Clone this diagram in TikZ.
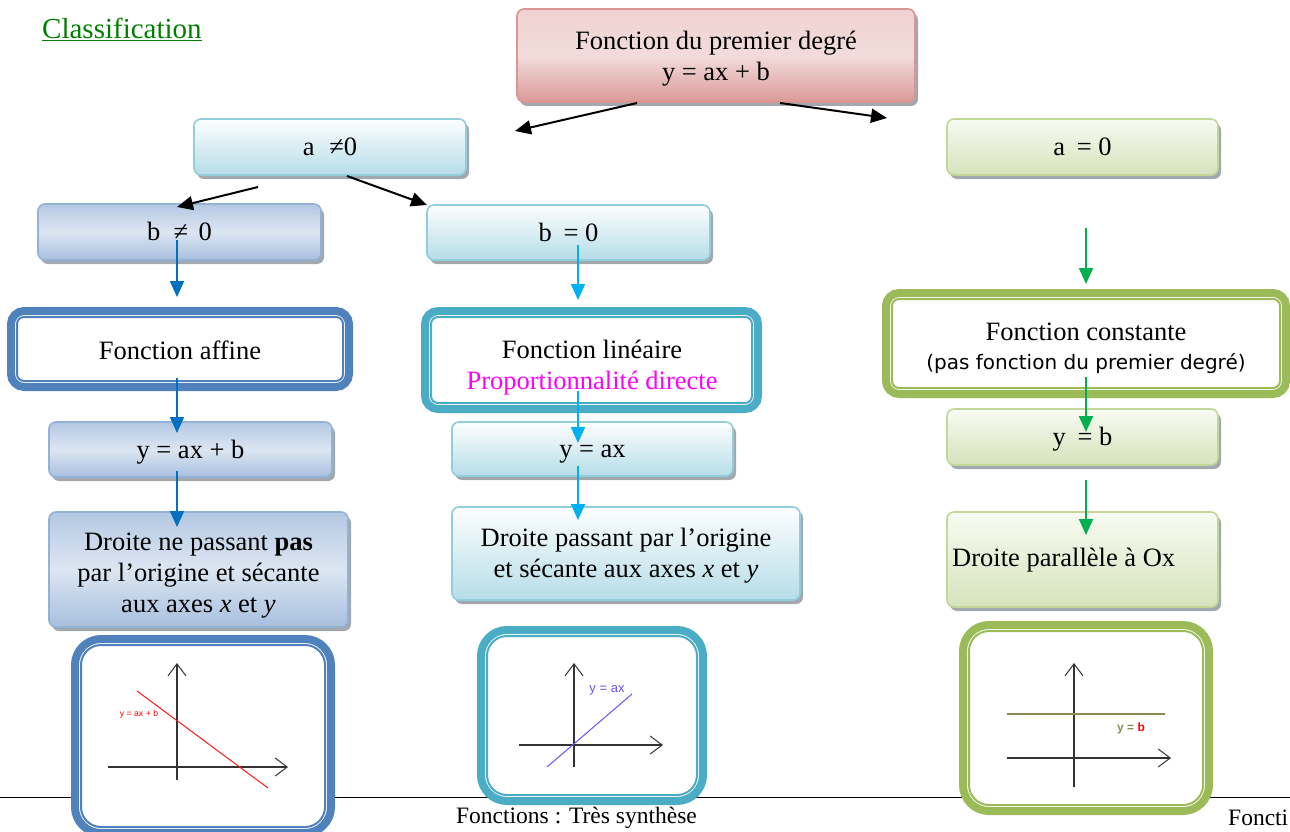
\documentclass[tikz,border=0pt]{standalone}
\usepackage{fontspec}
\setmainfont{Liberation Serif}
\newfontfamily\sansf{DejaVu Sans}
\newfontfamily\arialf{Liberation Sans}
\usetikzlibrary{arrows.meta,shadows,calc}
\definecolor{bbord}{HTML}{94B2D6}
\definecolor{bbtop}{HTML}{B4C8E3}
\definecolor{bbmid}{HTML}{DCE6F2}
\definecolor{bbbot}{HTML}{A7BFDE}
\definecolor{cbord}{HTML}{92CDDC}
\definecolor{ctop}{HTML}{FDFEFF}
\definecolor{cbot}{HTML}{B6DDE8}
\definecolor{gbord}{HTML}{C2D69A}
\definecolor{gtop}{HTML}{F8FBF2}
\definecolor{gbot}{HTML}{D6E3BC}
\definecolor{rbord}{HTML}{D99694}
\definecolor{rtop}{HTML}{EFD2D1}
\definecolor{rmid}{HTML}{F2DCDB}
\definecolor{rbot}{HTML}{DA9A99}
\definecolor{shadowc}{HTML}{A2A8AE}
\definecolor{dblue}{HTML}{4F81BD}
\definecolor{dcyan}{HTML}{4BACC6}
\definecolor{dgreen}{HTML}{9BBB59}
\definecolor{ablue}{HTML}{0070C0}
\definecolor{acyan}{HTML}{00B0F0}
\definecolor{agreen}{HTML}{00B050}
\definecolor{titgreen}{HTML}{008000}
\definecolor{axc}{HTML}{333333}
\definecolor{lpurple}{HTML}{6E50F0}
\definecolor{olivec}{HTML}{8C8C50}
\definecolor{pmag}{HTML}{FF00FF}
\newcommand\fs{\fontsize{26.5}{31}\selectfont}
\newcommand\innerring[3]{\draw[line width=2pt,#2,rounded corners=#3] ([shift={(6pt,-6pt)}]#1.north west) rectangle ([shift={(-6pt,6pt)}]#1.south east);}
\tikzset{
 sh/.style={drop shadow={shadow xshift=3pt,shadow yshift=-4pt,fill=shadowc,opacity=1}},
 boxb/.style={rounded corners=7pt, line width=1.6pt, inner sep=0pt, align=center, font=\fs, sh},
 one/.style={text height=21pt, text depth=4pt},
 bluebox/.style={boxb, draw=bbord, top color=bbtop, bottom color=bbbot, middle color=bbmid},
 cyanbox/.style={boxb, draw=cbord, top color=ctop, bottom color=cbot},
 greenbox/.style={boxb, draw=gbord, top color=gtop, bottom color=gbot},
 redbox/.style={boxb, draw=rbord, top color=rtop, bottom color=rbot, middle color=rmid},
 dbl/.style={line width=8pt, rounded corners=13pt, fill=white, inner sep=0pt, outer sep=0pt, align=center, font=\fs},
 conn/.style={line width=2pt, -{Triangle[length=16pt,width=14pt]}},
 axisl/.style={line width=1.2pt, draw=axc, -{Straight Barb[length=12pt,width=18pt,line width=1pt]}},
 plain/.style={inner sep=0pt, font=\fs, align=center},
}
\begin{document}
\begin{tikzpicture}[x=1pt,y=-1pt]
\useasboundingbox (0,0) rectangle (1290,832);
\clip (0,0) rectangle (1290,832);

% footer line and texts
\coordinate (fl) at (0,797.5);
\coordinate (fr) at (1290,797.5);
\draw[line width=1.5pt] (fl) -- (fr);
\node[inner sep=0pt, font=\fontsize{23.5}{28}\selectfont] (foot) at (576.5,818) {Fonctions : Très synthèse};
\node[inner sep=0pt, anchor=west, font=\fontsize{23.5}{28}\selectfont] (foot2) at (1228,818) {Foncti};

% title
\node[inner sep=0pt, anchor=west, text=titgreen, font=\fontsize{29}{34}\selectfont] (title) at (42,29.5) {\underline{Classification}};

% first levels
\node[redbox, minimum width=398pt, minimum height=93pt] (top) at (716,55.5) {};
\node[plain] (toptxt) at (716,58.5) {Fonction du premier degré\\y = ax + b};
\node[cyanbox, one, minimum width=272pt, minimum height=56pt] (ane) at (330,147) {a\hspace{0.55em}≠0};
\node[greenbox, one, minimum width=271pt, minimum height=56pt] (aeq) at (1082.5,147) {a\hspace{0.45em}= 0};
\node[bluebox, one, minimum width=283pt, minimum height=56pt] (bne) at (179.5,232) {b\hspace{0.5em}≠\hspace{0.4em}0};
\node[cyanbox, one, minimum width=283pt, minimum height=55pt] (beq) at (568.5,232.5) {b\hspace{0.45em}= 0};

% black arrows
\coordinate (t1) at (637,103);
\coordinate (t1e) at (515,131);
\coordinate (t2) at (780,103);
\coordinate (t2e) at (887,118);
\draw[conn] (t1) -- (t1e);
\draw[conn] (t2) -- (t2e);
\coordinate (a1) at (258,187);
\coordinate (a1e) at (177,207);
\coordinate (a2) at (347,176);
\coordinate (a2e) at (427,205);
\draw[conn] (a1) -- (a1e);
\draw[conn] (a2) -- (a2e);

% double boxes
\node[dbl, draw=dblue, minimum width=338pt, minimum height=76pt] (faff) at (180,349) {};
\innerring{faff}{dblue}{7pt}
\node[plain] (fafftxt) at (180,350) {Fonction affine};
\node[dbl, draw=dcyan, minimum width=333pt, minimum height=98pt] (flin) at (591.5,360) {};
\innerring{flin}{dcyan}{7pt}
\node[plain] (flintxt) at (592,367.5) {Fonction linéaire\\\textcolor{pmag}{Proportionnalité directe}};
\node[dbl, draw=dgreen, minimum width=400pt, minimum height=101pt] (fcst) at (1086,343.5) {};
\innerring{fcst}{dgreen}{7pt}
\node[plain] (fcsttxt) at (1086,332) {Fonction constante};
\node[inner sep=0pt, font=\sansf\fontsize{20}{24}\selectfont] (fcstsub) at (1086,364) {(pas fonction du premier degré)};

% second row boxes
\node[bluebox, one, minimum width=283pt, minimum height=55pt] (yab) at (190.5,449.5) {y = ax + b};
\node[cyanbox, one, minimum width=281pt, minimum height=54pt] (yax) at (592.5,449) {y = ax};
\node[greenbox, one, minimum width=271pt, minimum height=56pt] (yb) at (1082.5,437) {y\hspace{0.45em}= b};

% third row boxes
\node[bluebox, minimum width=299pt, minimum height=115pt] (d1) at (198.5,569.5) {};
\node[plain] (d1txt) at (198.5,576) {Droite ne passant \textbf{pas}\\par l’origine et sécante\\aux axes \textit{x} et \textit{y}};
\node[cyanbox, minimum width=348pt, minimum height=93pt] (d2) at (626,553.5) {};
\node[plain] (d2txt) at (626,555.5) {Droite passant par l’origine\\et sécante aux axes \textit{x} et \textit{y}};
\node[greenbox, minimum width=271pt, minimum height=95pt] (d3) at (1082.5,559.5) {};
\node[plain, anchor=west] (d3t) at (952,560) {Droite parallèle à Ox};

% colored arrows
\coordinate (b1) at (177,240); \coordinate (b1e) at (177,297);
\coordinate (b2) at (177,378); \coordinate (b2e) at (177,433);
\coordinate (b3) at (177,471); \coordinate (b3e) at (177,527);
\draw[conn, ablue] (b1) -- (b1e);
\draw[conn, ablue] (b2) -- (b2e);
\draw[conn, ablue] (b3) -- (b3e);
\coordinate (c1) at (578,245); \coordinate (c1e) at (578,300);
\coordinate (c2) at (578,391); \coordinate (c2e) at (578,443);
\coordinate (c3) at (578,466); \coordinate (c3e) at (578,520);
\draw[conn, acyan] (c1) -- (c1e);
\draw[conn, acyan] (c2) -- (c2e);
\draw[conn, acyan] (c3) -- (c3e);
\coordinate (g1) at (1086,228); \coordinate (g1e) at (1086,284);
\coordinate (g2) at (1086,377); \coordinate (g2e) at (1086,432);
\coordinate (g3) at (1086,480); \coordinate (g3e) at (1086,535);
\draw[conn, agreen] (g1) -- (g1e);
\draw[conn, agreen] (g2) -- (g2e);
\draw[conn, agreen] (g3) -- (g3e);

% graph boxes
\node[dbl, draw=dblue, minimum width=256pt, minimum height=194pt, rounded corners=26pt] (gA) at (203,736) {};
\innerring{gA}{dblue}{20pt}
\node[dbl, draw=dcyan, minimum width=222pt, minimum height=171pt, rounded corners=26pt] (gB) at (592,715.5) {};
\innerring{gB}{dcyan}{20pt}
\node[dbl, draw=dgreen, minimum width=246pt, minimum height=186pt, rounded corners=26pt] (gC) at (1086,718) {};
\innerring{gC}{dgreen}{20pt}

% graph A
\draw[axisl] (177,780) -- (177,663);
\draw[axisl] (108,767) -- (288,767);
\draw[red!90!white, line width=1pt] (137,691) -- (268,788);
\node[inner sep=0pt, text=red, font=\arialf\fontsize{8.7}{10}\selectfont] (labA) at (139,714) {y = ax + b};
% graph B
\draw[axisl] (574,767) -- (574,663);
\draw[axisl] (519,745) -- (663,745);
\draw[lpurple, line width=1pt] (547,767) -- (632,694);
\node[inner sep=0pt, text=lpurple, font=\arialf\fontsize{13}{15}\selectfont] (labB) at (607,690) {y = ax};
% graph C
\draw[axisl] (1074,787) -- (1074,663);
\draw[axisl] (1007,758) -- (1171,758);
\draw[olivec, line width=1.3pt] (1007,714) -- (1165,714);
\node[inner sep=0pt, font=\arialf\bfseries\fontsize{12}{14}\selectfont] (labC) at (1131,728) {\textcolor{olivec}{y =} \textcolor{red}{b}};
\end{tikzpicture}
\end{document}
